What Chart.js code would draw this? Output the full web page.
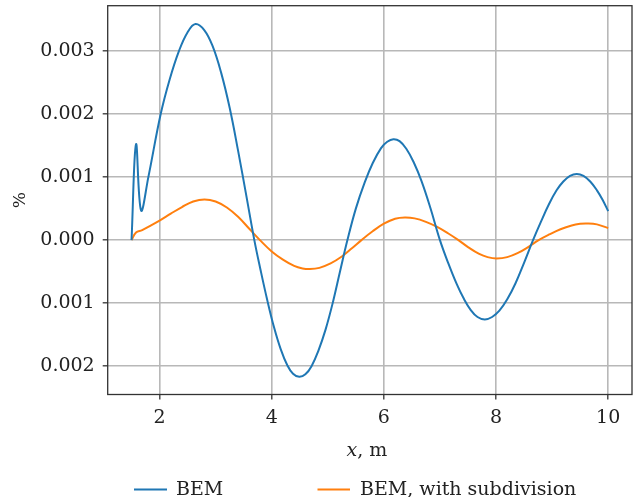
<!DOCTYPE html>
<html>
<head>
<meta charset="utf-8">
<script src="https://cdn.jsdelivr.net/npm/chart.js@4.4.0/dist/chart.umd.min.js"></script>
<style>
  html, body { margin: 0; padding: 0; background: #fff; }
  #wrap { width: 636px; height: 497px; }
</style>
</head>
<body>
<div id="wrap"><canvas id="grafica" width="636" height="497"></canvas></div>
<script>
// --- DATOS ---
const xTicks = [2, 4, 6, 8, 10];
const yTicks = [-0.002, -0.001, 0, 0.001, 0.002, 0.003];

const bemX = [1.50, 1.58, 1.67, 1.80, 2.02, 2.18, 2.345, 2.50, 2.64, 2.80, 2.95, 3.10, 3.25, 3.40, 3.55,
              3.69, 3.80, 3.92, 4.04, 4.16, 4.28, 4.38, 4.49, 4.60, 4.71, 4.83, 4.96, 5.09, 5.22, 5.35,
              5.50, 5.66, 5.80, 5.95, 6.06, 6.17, 6.28, 6.40, 6.53, 6.67, 6.83, 7.00, 7.15, 7.30, 7.42,
              7.55, 7.67, 7.80, 7.93, 8.06, 8.20, 8.35, 8.50, 8.66, 8.80, 8.95, 9.08, 9.20, 9.32, 9.44,
              9.56, 9.68, 9.80, 9.90, 10.0];
const bemY = [0.0, 0.00152, 0.00047, 0.00100, 0.00200, 0.00255, 0.00300, 0.00330, 0.00343, 0.00333, 0.00307, 0.00265, 0.00210, 0.00142, 0.00069,
              0.0, -0.00047, -0.00095, -0.00138, -0.00173, -0.00199, -0.00212, -0.00217, -0.00213, -0.00200, -0.00176, -0.00142, -0.00099, -0.00049, 0.0,
              0.00050, 0.00092, 0.00122, 0.00146, 0.00156, 0.00160, 0.00157, 0.00145, 0.00124, 0.00094, 0.00051, 0.0, -0.00037, -0.00070, -0.00092,
              -0.00111, -0.00122, -0.00126, -0.00122, -0.00112, -0.00094, -0.00068, -0.00036, 0.0, 0.00029, 0.00058, 0.00079, 0.00093, 0.00102, 0.00105,
              0.00102, 0.00093, 0.00079, 0.00064, 0.00046];

const subX = [1.50, 1.58, 1.69, 2.00, 2.20, 2.40, 2.60, 2.80, 3.00, 3.20, 3.40, 3.60, 3.79, 4.00, 4.20,
              4.40, 4.55, 4.68, 4.85, 5.05, 5.25, 5.43, 5.60, 5.80, 6.00, 6.20, 6.375, 6.55, 6.75, 6.95,
              7.15, 7.33, 7.50, 7.70, 7.85, 8.01, 8.20, 8.40, 8.58, 8.76, 8.95, 9.15, 9.35, 9.50, 9.62,
              9.80, 10.0];
const subY = [0.0, 0.00012, 0.00016, 0.00031, 0.00042, 0.000525, 0.000612, 0.000646, 0.000613, 0.000517, 0.00037, 0.00018, 0.0, -0.00018, -0.00031,
              -0.00041, -0.00045, -0.00046, -0.00044, -0.00037, -0.00026, -0.00013, 0.0, 0.00014, 0.00026, 0.00034, 0.00036, 0.000345, 0.00029, 0.00021,
              0.000105, 0.0, -0.00011, -0.00022, -0.00027, -0.00029, -0.00027, -0.00020, -0.000107, 0.0, 0.00009, 0.000173, 0.000233, 0.000259, 0.000265,
              0.00025, 0.00019];

const seriesNames = ['BEM', 'BEM, with subdivision'];
const seriesColors = ['#1f77b4', '#ff7f0e'];

const FONT = "'DejaVu Serif', 'Liberation Serif', serif";
const TEXT_COLOR = '#222222';

function pares(xs, ys) {
    return xs.map((x, i) => ({ x: x, y: ys[i] }));
}

// --- MARCO, TITULO X Y LEYENDA ---
const extras = {
    id: 'extras',
    afterDraw(chart) {
        const { ctx, chartArea: a } = chart;
        ctx.save();
        ctx.strokeStyle = '#333';
        ctx.lineWidth = 1.3;
        ctx.strokeRect(a.left, a.top, a.right - a.left, a.bottom - a.top);

        // titulo del eje x: "x" en cursiva + ", m"
        ctx.fillStyle = TEXT_COLOR;
        ctx.textBaseline = 'alphabetic';
        ctx.textAlign = 'left';
        ctx.font = 'italic 19px ' + FONT;
        const wX = ctx.measureText('x').width;
        ctx.font = '19px ' + FONT;
        const wR = ctx.measureText(', m').width;
        let cx = (a.left + a.right) / 2 - 3 - (wX + wR) / 2;
        ctx.font = 'italic 19px ' + FONT;
        ctx.fillText('x', cx, 456);
        ctx.font = '19px ' + FONT;
        ctx.fillText(', m', cx + wX, 456);

        // leyenda
        const muestras = [[134, 167, 176], [317.5, 350, 360]];
        seriesNames.forEach((nombre, i) => {
            const [x0, x1, xt] = muestras[i];
            ctx.strokeStyle = seriesColors[i];
            ctx.lineWidth = 2;
            ctx.beginPath();
            ctx.moveTo(x0, 489.5);
            ctx.lineTo(x1, 489.5);
            ctx.stroke();
            ctx.fillStyle = TEXT_COLOR;
            ctx.fillText(nombre, xt, 495);
        });
        ctx.restore();
    }
};

function crearSerie(label, xs, ys, color) {
    return {
        label: label,
        data: pares(xs, ys),
        borderColor: color,
        backgroundColor: color,
        borderWidth: 2,
        pointRadius: 0,
        tension: 0.4,
        fill: false
    };
}

const ctx = document.getElementById('grafica').getContext('2d');
const grafica = new Chart(ctx, {
    type: 'line',
    data: {
        datasets: [
            crearSerie(seriesNames[0], bemX, bemY, seriesColors[0]),
            crearSerie(seriesNames[1], subX, subY, seriesColors[1])
        ]
    },
    options: {
        responsive: false,
        animation: false,
        layout: { padding: { left: 0, right: 4, top: 5.7, bottom: 0 } },
        plugins: { legend: { display: false }, tooltip: { enabled: false } },
        scales: {
            x: {
                type: 'linear',
                min: 1.075,
                max: 10.425,
                afterBuildTicks: axis => { axis.ticks = xTicks.map(v => ({ value: v })); },
                afterFit: scale => {
                    scale.height = 102.5;
                    scale.paddingLeft = 0;
                    scale.paddingRight = 0;
                },
                grid: { color: '#b8b8b8', lineWidth: 1.6, tickColor: '#333', tickLength: 5, tickWidth: 1.3 },
                border: { display: false },
                ticks: {
                    color: TEXT_COLOR,
                    padding: 7,
                    maxRotation: 0,
                    font: { family: FONT, size: 19 },
                    callback: v => String(v)
                }
            },
            y: {
                type: 'linear',
                min: -0.00245,
                max: 0.00372,
                afterBuildTicks: axis => { axis.ticks = yTicks.map(v => ({ value: v })); },
                afterFit: scale => {
                    scale.width = 107.7;
                    scale.paddingTop = 0;
                    scale.paddingBottom = 0;
                },
                grid: { color: '#b8b8b8', lineWidth: 1.6, tickColor: '#333', tickLength: 5, tickWidth: 1.3 },
                border: { display: false },
                title: {
                    display: true,
                    text: '%',
                    color: TEXT_COLOR,
                    font: { family: FONT, size: 17 },
                    padding: { top: 10, bottom: 0 }
                },
                ticks: {
                    color: TEXT_COLOR,
                    padding: 8,
                    font: { family: FONT, size: 19 },
                    // el original muestra los negativos sin signo
                    callback: v => Math.abs(v).toFixed(3)
                }
            }
        }
    },
    plugins: [extras]
});
</script>
</body>
</html>
